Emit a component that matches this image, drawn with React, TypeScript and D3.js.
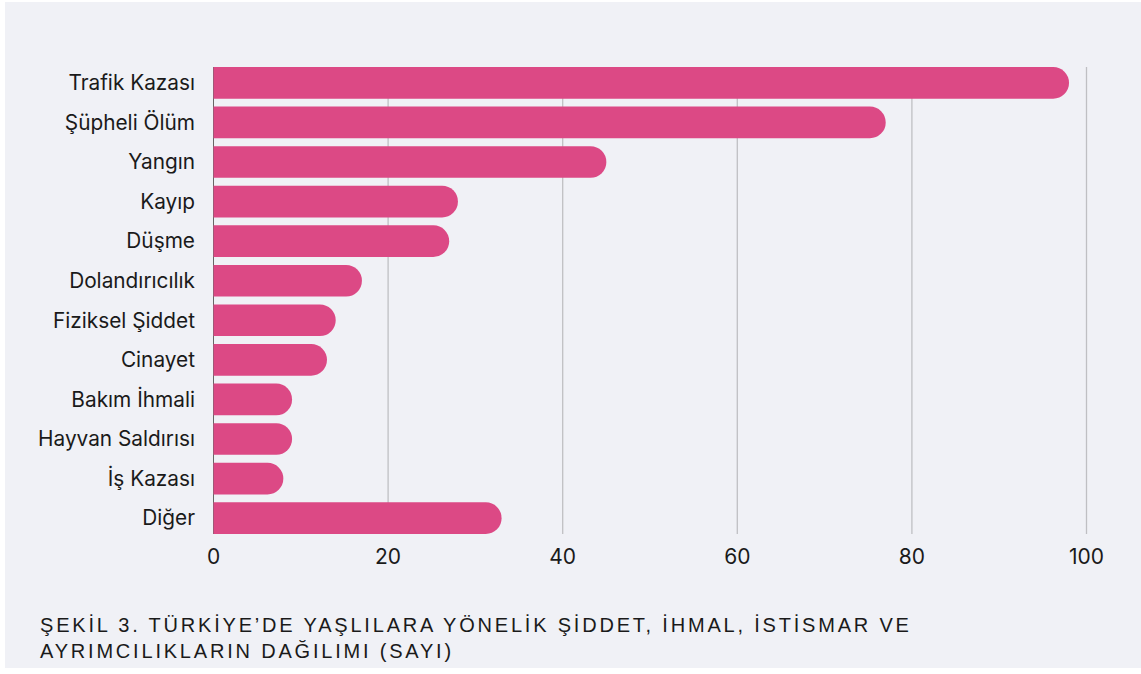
import * as d3 from "d3";
import React, { useRef, useEffect } from "react";

const categories = [
  "Trafik Kazası",
  "Şüpheli Ölüm",
  "Yangın",
  "Kayıp",
  "Düşme",
  "Dolandırıcılık",
  "Fiziksel Şiddet",
  "Cinayet",
  "Bakım İhmali",
  "Hayvan Saldırısı",
  "İş Kazası",
  "Diğer",
];
const counts = [98, 77, 45, 28, 27, 17, 14, 13, 9, 9, 8, 33];
const xTicks = [0, 20, 40, 60, 80, 100];
const captionLines = [
  "ŞEKİL 3. TÜRKİYE’DE YAŞLILARA YÖNELİK ŞİDDET, İHMAL, İSTİSMAR VE",
  "AYRIMCILIKLARIN DAĞILIMI (SAYI)",
];

const W = 1141;
const H = 674;
const font = "Inter, 'Noto Sans', sans-serif";
const captionFont = "'Liberation Sans', Arial, sans-serif";

export default function App() {
  const svgRef = useRef<SVGSVGElement>(null);

  useEffect(() => {
    const svg = d3.select(svgRef.current);
    svg.selectAll("*").remove();

    const data = categories.map((c, i) => ({ name: c, value: counts[i] }));

    const x = d3.scaleLinear().domain([0, 100]).range([213.5, 1086.5]);
    const y = d3
      .scaleBand()
      .domain(categories)
      .range([67, 534])
      .paddingInner(0.2)
      .paddingOuter(0);

    // background panel
    svg.append("rect")
      .attr("x", 5).attr("y", 2)
      .attr("width", W - 5).attr("height", 666)
      .attr("fill", "#f0f1f6");

    // grid lines
    svg.append("g")
      .selectAll("line")
      .data(xTicks.slice(1))
      .enter()
      .append("line")
      .attr("x1", (d) => x(d)).attr("x2", (d) => x(d))
      .attr("y1", 67).attr("y2", 534)
      .attr("stroke", "#bfbfc3")
      .attr("stroke-width", 1.3);

    // zero axis
    svg.append("line")
      .attr("x1", x(0)).attr("x2", x(0))
      .attr("y1", 67).attr("y2", 534)
      .attr("stroke", "#666")
      .attr("stroke-width", 1);

    // bars with rounded right end
    const bw = y.bandwidth();
    const r = bw / 2;
    svg.append("g")
      .selectAll("path")
      .data(data)
      .enter()
      .append("path")
      .attr("fill", "#dc4985")
      .attr("d", (d) => {
        const x0 = x(0);
        const x1 = x(d.value);
        const y0 = y(d.name)!;
        const rr = Math.min(r, x1 - x0);
        return `M${x0},${y0}H${x1 - rr}A${rr},${r} 0 0 1 ${x1},${y0 + r}A${rr},${r} 0 0 1 ${x1 - rr},${y0 + bw}H${x0}Z`;
      });

    // category labels
    svg.append("g")
      .selectAll("text")
      .data(data)
      .enter()
      .append("text")
      .attr("x", 195)
      .attr("y", (d) => y(d.name)! + bw / 2)
      .attr("dy", "0.35em")
      .attr("text-anchor", "end")
      .attr("font-family", font)
      .attr("font-size", 20.8)
      .attr("fill", "#1a1a1a")
      .text((d) => d.name);

    // x tick labels
    svg.append("g")
      .selectAll("text")
      .data(xTicks)
      .enter()
      .append("text")
      .attr("x", (d) => x(d))
      .attr("y", 564)
      .attr("text-anchor", "middle")
      .attr("font-family", font)
      .attr("font-size", 21)
      .attr("fill", "#1a1a1a")
      .text((d) => d);

    // caption
    svg.append("g")
      .selectAll("text")
      .data(captionLines)
      .enter()
      .append("text")
      .attr("x", 40)
      .attr("y", (d, i) => 632 + i * 26)
      .attr("font-family", captionFont)
      .attr("font-size", 20)
      .attr("letter-spacing", 2.8)
      .attr("fill", "#1a1a1a")
      .text((d) => d);
  }, []);

  return (
    <svg
      ref={svgRef}
      width={W}
      height={H}
      style={{ position: "absolute", left: 0, top: 0, background: "#fff" }}
    />
  );
}
